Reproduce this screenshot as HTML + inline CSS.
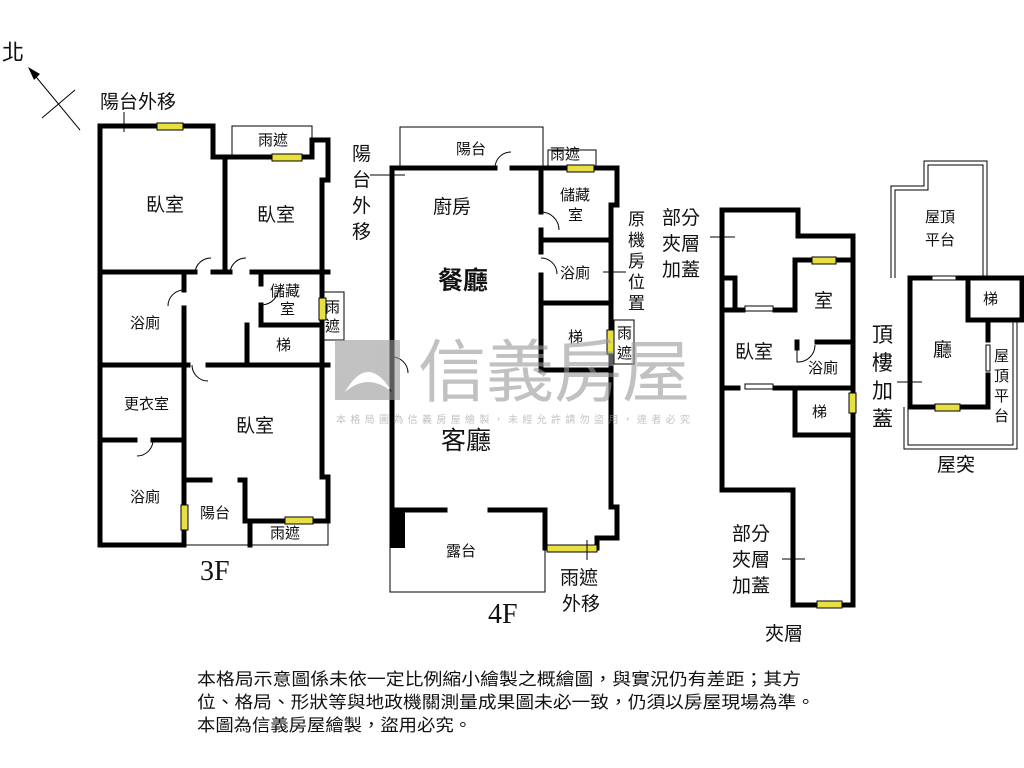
<!DOCTYPE html>
<html><head><meta charset="utf-8"><style>
body{margin:0;background:#fff;}
svg{display:block;font-family:"Liberation Sans","Noto Sans CJK TC",sans-serif;}
.w{stroke:#000;stroke-width:5;fill:none;stroke-linecap:square;}
.t{stroke:#000;stroke-width:1;fill:none;}
.t2{stroke:#000;stroke-width:1;fill:#fff;}
.y{fill:#e8e040;stroke:#000;stroke-width:1;}
text{fill:#111;}
</style></head><body>
<svg width="1024" height="768" viewBox="0 0 1024 768">
<!-- North -->
<text x="2" y="60" font-size="22">北</text>
<line x1="80" y1="130" x2="32" y2="72" class="t" stroke-width="2"/>
<polygon points="28,67 40,74 34,80" fill="#000"/>
<line x1="42" y1="118" x2="75" y2="90" class="t" stroke-width="2"/>
<text x="100" y="108" font-size="19">陽台外移</text>
<line x1="124" y1="112" x2="124" y2="132" class="t"/>

<!-- 3F -->
<rect x="232" y="126" width="80" height="31" class="t2"/>
<rect x="320" y="292" width="24" height="48" class="t2"/>
<rect x="250" y="521" width="78" height="24" class="t2"/>
<polyline class="t" points="184,545 250,545"/>
<polyline class="w" points="213,157 213,126 100,126 100,545 184,545"/>
<polyline class="w" points="213,157 312,157 312,140 328,140 328,180 322,180 322,365 322,477 328,477 328,521 250,521 250,545"/>
<line class="w" x1="225" y1="157" x2="225" y2="272"/>
<polyline class="w" points="100,272 195,272"/><polyline class="w" points="213,272 230,272"/><polyline class="w" points="252,272 328,272"/>
<line class="w" x1="184" y1="272" x2="184" y2="290"/><line class="w" x1="184" y1="308" x2="184" y2="545"/>
<polyline class="w" points="100,365 188,365"/><polyline class="w" points="208,365 328,365"/>
<polyline class="w" points="261,272 261,284"/><polyline class="w" points="261,305 261,325 322,325"/>
<polyline class="w" points="247,325 247,365"/>
<polyline class="w" points="100,440 135,440"/><polyline class="w" points="153,440 184,440"/>
<polyline class="w" points="184,480 210,480"/><polyline class="w" points="240,480 245,480 245,521 250,521"/>
<path class="t" d="M195,272 A16,16 0 0 1 211,258 M230,272 A16,16 0 0 1 246,258 M184,290 A16,16 0 0 0 168,306 M261,305 A18,18 0 0 0 279,287 M192,365 A16,16 0 0 0 208,381 M153,440 A16,16 0 0 1 137,456"/>
<rect x="157" y="123" width="26" height="7" class="y"/><rect x="272" y="154" width="30" height="7" class="y"/>
<rect x="319" y="298" width="7" height="22" class="y"/><rect x="285" y="517" width="28" height="7" class="y"/>
<rect x="181" y="505" width="7" height="25" class="y"/>
<g font-size="19">
<text x="146" y="211">臥室</text><text x="257" y="221">臥室</text><text x="236" y="432">臥室</text>
</g>
<g font-size="15">
<text x="130" y="328">浴廁</text><text x="130" y="502">浴廁</text><text x="124" y="409">更衣室</text>
<text x="270" y="296">儲藏</text><text x="280" y="314">室</text><text x="276" y="350">梯</text>
<text x="200" y="518">陽台</text><text x="270" y="538">雨遮</text><text x="258" y="145">雨遮</text>
<text x="325" y="312">雨</text><text x="325" y="331">遮</text>
</g>
<text x="200" y="580" font-size="28" font-family="Liberation Serif,serif">3F</text>

<!-- 4F -->
<path class="t2" d="M390,168 L390,510 L390,592 L545,592 L545,548 M400,168 L400,127 L543,127 L543,168"/>
<rect x="548" y="150" width="48" height="18" class="t2"/>
<rect x="614" y="320" width="20" height="44" class="t2"/>
<polyline class="w" points="392,168 495,168"/><polyline class="w" points="512,168 617,168 617,205 611,205 611,507 617,507 617,538 597,538 597,548 545,548 545,510 490,510"/>
<polyline class="w" points="445,510 392,510 392,168"/>
<rect x="390" y="510" width="15" height="38" fill="#000"/>
<polyline class="w" points="541,168 541,212"/><polyline class="w" points="541,230 541,252"/><polyline class="w" points="541,275 541,370 611,370"/>
<line class="w" x1="541" y1="240" x2="611" y2="240"/><line class="w" x1="541" y1="303" x2="611" y2="303"/>
<path class="t" d="M495,168 A16,16 0 0 1 511,152 M541,212 A18,18 0 0 1 559,230 M541,258 A16,16 0 0 1 557,274 M392,357 A16,16 0 0 1 408,373"/>
<rect x="567" y="165" width="27" height="7" class="y"/><rect x="607" y="330" width="7" height="24" class="y"/><rect x="547" y="545" width="50" height="7" class="y"/>
<line class="t" x1="587" y1="540" x2="587" y2="560"/>
<g font-size="15">
<text x="456" y="154">陽台</text><text x="550" y="159">雨遮</text><text x="560" y="200">儲藏</text><text x="568" y="220">室</text>
<text x="560" y="278">浴廁</text><text x="568" y="342">梯</text><text x="617" y="338">雨</text><text x="617" y="358">遮</text>
<text x="446" y="556">露台</text>
</g>
<g font-size="19"><text x="433" y="213">廚房</text>
<text x="560" y="584">雨遮</text><text x="562" y="610">外移</text>
<text x="352" y="160">陽</text><text x="352" y="186">台</text><text x="352" y="212">外</text><text x="352" y="238">移</text>
</g>
<line class="t" x1="370" y1="175" x2="405" y2="175"/>
<g font-size="17"><text x="628" y="225">原</text><text x="628" y="246">機</text><text x="628" y="267">房</text><text x="628" y="288">位</text><text x="628" y="309">置</text></g>
<line class="t" x1="603" y1="272" x2="626" y2="272"/>
<text x="438" y="289" font-size="25" font-weight="bold">餐廳</text>
<text x="441" y="449" font-size="25">客廳</text>
<text x="488" y="623" font-size="28" font-family="Liberation Serif,serif">4F</text>

<!-- mezz -->
<polyline class="w" points="722,490 722,210 798,210 798,236 853,236 853,605 793,605 793,490 722,490"/>
<polyline class="w" points="853,260 795,260 795,310 775,310"/><polyline class="w" points="743,310 722,310"/>
<polyline class="w" points="735,278 735,310"/><line class="w" x1="722" y1="278" x2="735" y2="278"/>
<polyline class="w" points="722,388 738,388"/><polyline class="w" points="775,388 853,388"/>
<polyline class="w" points="797,342 797,348"/><polyline class="w" points="817,342 853,342"/>
<polyline class="w" points="795,388 795,435 850,435"/>
<path class="t" d="M797,346 L797,362 A17,17 0 0 0 815,345"/>
<rect x="745" y="306" width="28" height="5" class="t2"/><rect x="745" y="384" width="28" height="5" class="t2"/>
<rect x="812" y="257" width="24" height="7" class="y"/><rect x="849" y="393" width="7" height="20" class="y"/><rect x="817" y="601" width="25" height="7" class="y"/>
<g font-size="19"><text x="814" y="307">室</text><text x="735" y="358">臥室</text>
<text x="662" y="224">部分</text><text x="662" y="250">夾層</text><text x="662" y="276">加蓋</text>
<text x="732" y="540">部分</text><text x="732" y="566">夾層</text><text x="732" y="592">加蓋</text>
<text x="765" y="640">夾層</text></g>
<g font-size="15"><text x="808" y="373">浴廁</text><text x="812" y="417">梯</text></g>
<line class="t" x1="710" y1="237" x2="735" y2="237"/><line class="t" x1="782" y1="559" x2="805" y2="559"/>

<!-- roof -->
<path class="t" d="M891,278 L891,186 L924,186 L924,161 L987,161 L987,278 M895,278 L895,190 L928,190 L928,165 L983,165 L983,278"/>
<path class="t" d="M908,407 L908,445 L1013,445 L1013,320 M1017,320 L1017,449 L904,449 L904,407"/>
<polyline class="w" points="910,278 930,278"/><polyline class="w" points="958,278 1022,278 1022,320 968,320 968,278"/>
<polyline class="w" points="910,278 910,407 988,407 988,375"/><polyline class="w" points="988,322 988,340"/>
<rect x="932" y="276" width="24" height="4" class="t2"/><rect x="986" y="345" width="4" height="26" class="t2"/>
<rect x="935" y="404" width="25" height="7" class="y"/>
<g font-size="15"><text x="925" y="222">屋頂</text><text x="925" y="245">平台</text><text x="983" y="304">梯</text>
<text x="994" y="361">屋</text><text x="994" y="381">頂</text><text x="994" y="401">平</text><text x="994" y="421">台</text></g>
<text x="933" y="356" font-size="19">廳</text>
<g font-size="21"><text x="872" y="342">頂</text><text x="872" y="370">樓</text><text x="872" y="398">加</text><text x="872" y="426">蓋</text></g>
<line class="t" x1="897" y1="382" x2="922" y2="382"/>
<text x="937" y="471" font-size="19">屋突</text>

<!-- watermark on top -->
<g opacity="0.6">
<path d="M335,340 L400,340 L400,400 L335,400 Z M345,392 Q368,352 392,392 Q368,372 345,392 Z" fill="#999" fill-rule="evenodd"/>
<text x="418" y="396" font-size="68" style="fill:#999" textLength="272" lengthAdjust="spacingAndGlyphs">信義房屋</text>
<text x="336" y="423" font-size="10" style="fill:#999" textLength="354" lengthAdjust="spacing">本格局圖為信義房屋繪製，未經允許請勿盜用，違者必究</text>
</g>

<!-- footer -->
<g font-size="17"><text x="197" y="685" textLength="604" lengthAdjust="spacingAndGlyphs">本格局示意圖係未依一定比例縮小繪製之概繪圖，與實況仍有差距；其方</text>
<text x="197" y="708" textLength="618" lengthAdjust="spacingAndGlyphs">位、格局、形狀等與地政機關測量成果圖未必一致，仍須以房屋現場為準。</text>
<text x="197" y="731" textLength="275" lengthAdjust="spacingAndGlyphs">本圖為信義房屋繪製，盜用必究。</text></g>
</svg>
</body></html>
